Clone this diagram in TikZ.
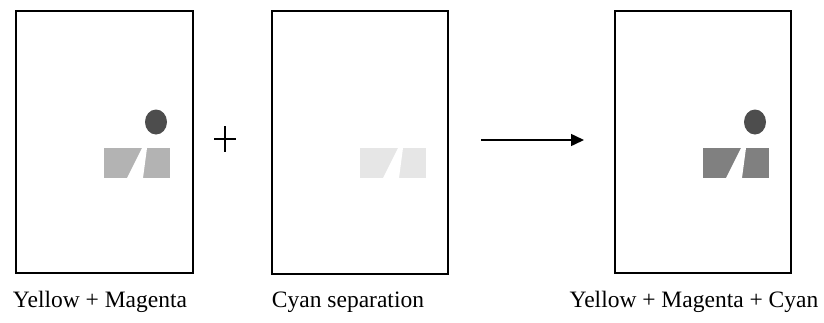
\documentclass[tikz,border=0pt]{standalone}
\usepackage{fontspec}
\setmainfont{Liberation Serif}
\usetikzlibrary{arrows.meta}
\definecolor{barA}{HTML}{B3B3B3}
\definecolor{barB}{HTML}{E6E6E6}
\definecolor{barC}{HTML}{808080}
\definecolor{dotc}{HTML}{4D4D4D}
\begin{document}
\begin{tikzpicture}[x=1pt,y=-1pt,
  panel/.style={draw=black,line width=2pt,fill=white},
  lbl/.style={font=\fontsize{23.5}{27}\selectfont,inner sep=0pt,anchor=base},
  sym/.style={line width=1.3pt,black}]
\useasboundingbox (0,0) rectangle (824,322);
% panels
\node[panel,minimum width=177pt,minimum height=262pt,inner sep=0pt] (p1) at (104.5,142) {};
\node[panel,minimum width=176pt,minimum height=263pt,inner sep=0pt] (p2) at (360,142.5) {};
\node[panel,minimum width=176pt,minimum height=262pt,inner sep=0pt] (p3) at (703,142) {};
% glyph macro
\newcommand{\mymark}[3]{%
  \begin{scope}[xshift=#1]
    \fill[#2] (104,148) rectangle (170,178);
    \fill[white] (127,178) -- (142,148) -- (147,148) -- (143,178) -- cycle;
    #3
  \end{scope}}
\mymark{0pt}{barA}{\fill[dotc] (156,122) ellipse [x radius=11, y radius=12.5];}
\mymark{256pt}{barB}{}
\mymark{599pt}{barC}{\fill[dotc] (156,122) ellipse [x radius=11, y radius=12.5];}
% plus sign
\coordinate (pl) at (225,139);
\draw[sym] ([xshift=-11pt]pl) -- ([xshift=11pt]pl);
\draw[sym] ([yshift=13pt]pl) -- ([yshift=-13pt]pl);
% arrow
\coordinate (a1) at (481,140);
\coordinate (a2) at (584,140);
\draw[line width=1.5pt,-{Triangle[length=13pt,width=12pt]}] (a1) -- (a2);
% labels
\node[lbl] (l1) at (100,307) {Yellow + Magenta};
\node[lbl] (l2) at (348,307) {Cyan separation};
\node[lbl] (l3) at (694,307) {Yellow + Magenta + Cyan};
\end{tikzpicture}
\end{document}
